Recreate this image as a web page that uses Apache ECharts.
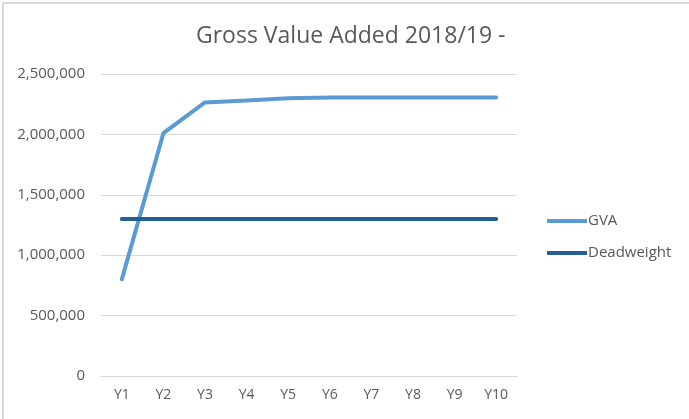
<!DOCTYPE html>
<html lang="en">

<head>
    <meta charset="UTF-8">
    <title>Gross Value Added</title>
    <script src="https://cdn.jsdelivr.net/npm/echarts@6/dist/echarts.min.js"></script>
    <style>
        body { margin: 0; background: #fff; }
        #main {
            position: absolute; left: 2px; top: 2px;
            width: 687px; height: 417px;
            border-left: 2px solid #d9d9d9; border-top: 2px solid #d9d9d9;
        }
    </style>
</head>

<body>
    <div id="main"></div>
    <script>
        let years = ['Y1', 'Y2', 'Y3', 'Y4', 'Y5', 'Y6', 'Y7', 'Y8', 'Y9', 'Y10']
        let gva = [800000, 2010000, 2265000, 2280000, 2300000, 2305000, 2305000, 2305000, 2305000, 2305000]
        let deadweight = [1300000, 1300000, 1300000, 1300000, 1300000, 1300000, 1300000, 1300000, 1300000, 1300000]
        let seriesNames = ['GVA', 'Deadweight']
        let colors = ['#5b9bd5', '#255e91']
    </script>
    <script>
        var chartDom = document.getElementById('main');
        var myChart = echarts.init(chartDom);
        var font = "'Open Sans', 'Liberation Sans', sans-serif";
        var option;

        option = {
            animation: false,
            title: {
                text: 'Gross Value Added 2018/19 -',
                left: 187,
                top: 16,
                textStyle: { fontFamily: font, fontSize: 23, fontWeight: 'normal', color: '#595959' }
            },
            legend: {
                orient: 'vertical',
                left: 538,
                top: 203,
                itemWidth: 40,
                itemHeight: 4,
                itemGap: 14,
                icon: 'rect',
                data: seriesNames,
                textStyle: { fontFamily: font, fontSize: 15, color: '#595959', padding: [0, 0, 0, -4], lineHeight: 18 }
            },
            grid: {
                left: 97,
                right: 174,
                top: 70,
                bottom: 45
            },
            xAxis: {
                type: 'category',
                data: years,
                axisLine: { lineStyle: { color: '#d9d9d9' } },
                axisTick: { show: false },
                axisLabel: { fontFamily: font, fontSize: 14, color: '#595959', margin: 12 }
            },
            yAxis: {
                type: 'value',
                min: 0,
                max: 2500000,
                interval: 500000,
                axisLine: { show: false },
                axisTick: { show: false },
                splitLine: { lineStyle: { color: '#d9d9d9' } },
                axisLabel: {
                    fontFamily: font, fontSize: 15, color: '#595959', margin: 16,
                    formatter: v => v.toLocaleString('en-US')
                }
            },
            series: [
                {
                    name: seriesNames[0],
                    type: 'line',
                    data: gva,
                    color: colors[0],
                    symbol: 'none',
                    lineStyle: { width: 4, cap: 'round' }
                },
                {
                    name: seriesNames[1],
                    type: 'line',
                    data: deadweight,
                    color: colors[1],
                    symbol: 'none',
                    lineStyle: { width: 4, cap: 'round' }
                }
            ]
        };

        option && myChart.setOption(option);
    </script>
</body>

</html>
